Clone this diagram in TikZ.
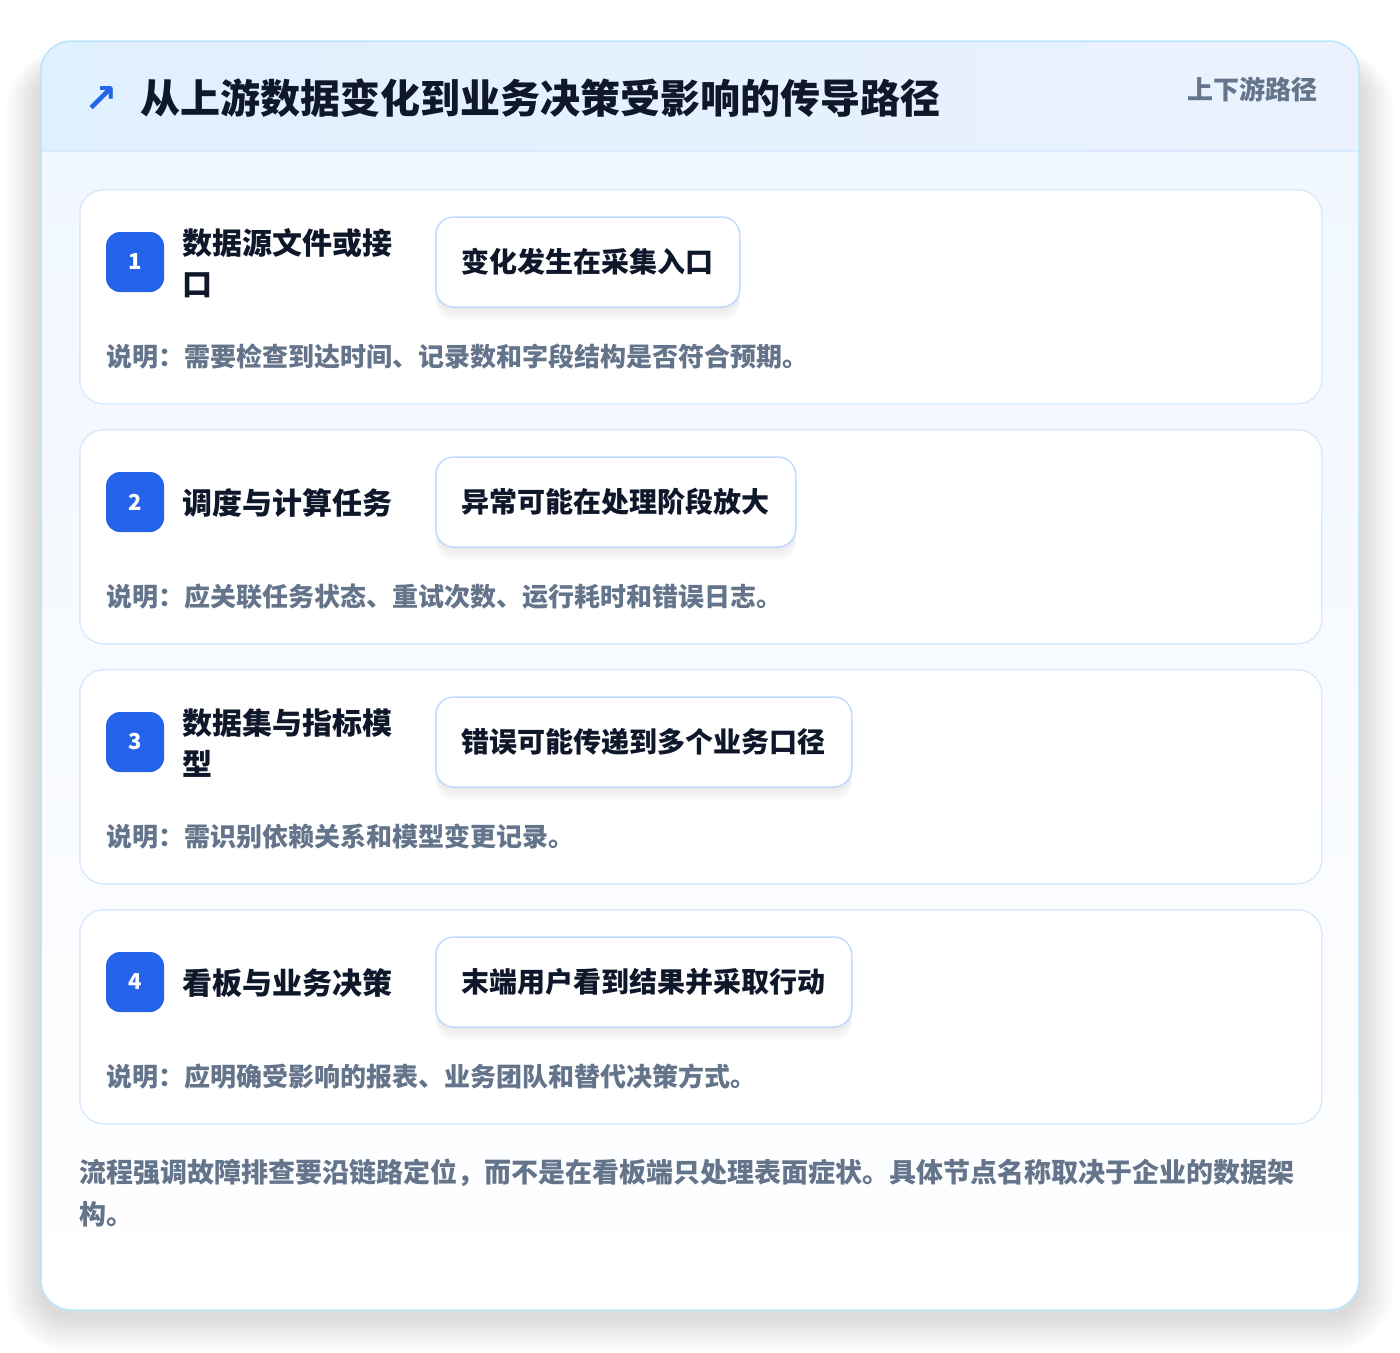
\documentclass[tikz,border=0pt]{standalone}
\usepackage{fontspec}
\setmainfont{Noto Sans CJK SC}
\newfontfamily\symfont{DejaVu Sans}
\definecolor{ink}{HTML}{0F172A}
\definecolor{muted}{HTML}{64748B}
\definecolor{brand}{HTML}{2563EB}
\definecolor{cardline}{HTML}{DBEAFE}
\definecolor{chipline}{HTML}{BFDBFE}
\definecolor{outerline}{HTML}{BAE6FD}
\definecolor{headL}{HTML}{DFF0FE}
\definecolor{headR}{HTML}{EBF2FE}
\definecolor{bodyT}{HTML}{F1F7FF}
\tikzset{
  card/.style={draw=cardline, line width=1.5pt, fill=white, rounded corners=24pt,
    minimum width=1242pt, minimum height=214pt, anchor=north west, inner sep=0pt},
  badge/.style={fill=brand, rounded corners=14pt, minimum width=58pt, minimum height=60pt,
    inner sep=0pt, text=white, font=\fontsize{22}{26}\selectfont\bfseries},
  steptitle/.style={anchor=west, align=left, inner sep=0pt, text=ink,
    font=\fontsize{30}{41}\selectfont\bfseries},
  softshade/.style={preaction={fill=black, opacity=0.01, transform canvas={yshift=-#1pt}}},
  chip/.style={draw=chipline, line width=1.5pt, fill=white, rounded corners=18pt,
    minimum height=90pt, inner xsep=26pt, inner ysep=0pt, anchor=west, text=ink,
    font=\fontsize{28}{32}\selectfont\bfseries,
    softshade=2, softshade=4, softshade=6, softshade=8, softshade=10, softshade=12, softshade=14},
  desc/.style={anchor=west, inner sep=0pt, text=muted, font=\fontsize{26}{30}\selectfont\bfseries},
}
\begin{document}
\begin{tikzpicture}[x=1pt,y=-1pt]
\useasboundingbox (0,0) rectangle (1400,1352);
\fill[white] (0,0) rectangle (1400,1352);
% outer shadow
\foreach \i in {1,...,36}{
  \fill[black, opacity=0.0024, rounded corners=30pt+\i pt]
    (41-\i,41-0.5*\i+24) rectangle (1359+\i,1310+\i+6);
}
% outer card
\fill[white, rounded corners=30pt] (41,41) rectangle (1359,1310);
\begin{scope}
  \clip[rounded corners=30pt] (41,41) rectangle (1359,1310);
  \shade[top color=bodyT, bottom color=white] (41,151) rectangle (1359,1310);
  \shade[left color=headL, right color=headR] (41,41) rectangle (1359,151);
  \draw[cardline, line width=1.5pt] (41,151) -- (1359,151);
\end{scope}
\draw[outerline, line width=1.5pt, rounded corners=30pt] (41,41) rectangle (1359,1310);
% header
\node[anchor=west, inner sep=0pt, text=brand, font=\symfont\bfseries\fontsize{40}{40}\selectfont] (icon) at (84,99) {↗};
\node[anchor=west, inner sep=0pt, text=ink, font=\fontsize{40}{44}\selectfont\bfseries] (title) at (140,98) {从上游数据变化到业务决策受影响的传导路径};
\node[anchor=east, inner sep=0pt, text=muted, font=\fontsize{26}{30}\selectfont\bfseries] (tag) at (1318,89) {上下游路径};
% step cards
\foreach \n/\yy/\ttl/\chiptext/\desctext in {
  1/189/{数据源文件或接\\口}/变化发生在采集入口/说明：需要检查到达时间、记录数和字段结构是否符合预期。,
  2/429/{调度与计算任务}/异常可能在处理阶段放大/说明：应关联任务状态、重试次数、运行耗时和错误日志。,
  3/669/{数据集与指标模\\型}/错误可能传递到多个业务口径/说明：需识别依赖关系和模型变更记录。,
  4/909/{看板与业务决策}/末端用户看到结果并采取行动/说明：应明确受影响的报表、业务团队和替代决策方式。}{
  \node[card] (card\n) at (79,\yy) {};
  \node[badge] (badge\n) at (135,\yy+73) {\n};
  \node[steptitle] (st\n) at (182,\yy+74) {\ttl};
  \node[chip] (chip\n) at (435,\yy+73) {\chiptext};
  \node[desc] (desc\n) at (106,\yy+168) {\desctext};
}
% footer
\node[anchor=north west, align=left, inner sep=0pt, text=muted,
  font=\fontsize{27}{42}\selectfont\bfseries] (foot) at (79,1159)
  {流程强调故障排查要沿链路定位，而不是在看板端只处理表面症状。具体节点名称取决于企业的数据架\\构。};
\end{tikzpicture}
\end{document}
